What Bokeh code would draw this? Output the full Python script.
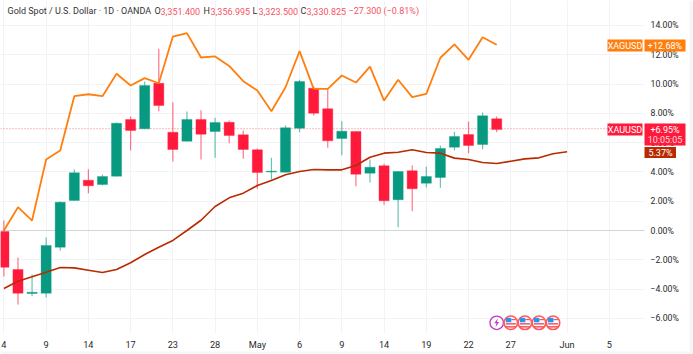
from bokeh.plotting import figure
from bokeh.models import Range1d, FixedTicker, Label, BoxAnnotation, ColumnDataSource
from bokeh.embed import file_html
from bokeh.resources import INLINE

# --- data (percent change) ---
opens = [-0.07,-2.66,-4.30,-4.28,-1.14,2.05,3.43,3.14,3.71,7.58,6.94,10.05,6.71,6.10,7.58,6.76,7.39,6.53,5.51,3.99,3.98,6.98,9.71,8.31,6.28,6.76,3.91,4.42,2.10,4.08,3.23,3.62,5.69,6.55,5.87,7.62]
closes = [-2.51,-4.28,-4.22,-1.02,1.93,3.94,3.05,3.69,7.32,6.83,9.90,8.53,5.53,7.58,6.57,7.37,6.48,5.53,3.96,4.05,7.01,10.17,8.01,6.12,6.78,3.84,4.32,2.03,4.03,2.85,3.69,5.60,6.42,5.80,7.83,6.89]
highs = [0.68,-1.84,-3.00,-0.48,1.98,4.16,4.18,3.82,7.37,7.78,10.17,12.40,8.76,8.12,8.21,7.69,7.51,6.83,5.60,4.96,7.17,10.29,9.85,9.67,7.46,6.76,4.85,4.55,4.03,4.44,4.35,5.80,6.74,7.44,8.05,7.78]
lows = [-3.14,-5.05,-4.48,-4.57,-1.37,2.05,2.55,3.07,3.69,5.46,6.93,8.14,4.71,6.08,4.85,4.96,5.96,4.89,2.85,3.46,3.96,6.71,7.85,5.65,5.14,3.02,3.28,1.75,0.23,1.32,2.94,2.91,5.46,5.28,5.55,6.71]
xagusd = [0,1.59,0.68,4.85,5.46,9.17,9.30,9.17,10.70,9.90,10.40,10.05,13.24,13.47,11.81,11.88,11.23,10.19,9.56,8.14,9.78,12.24,9.67,9.67,10.58,10.10,11.19,8.87,10.29,9.10,9.33,11.79,12.70,11.65,13.19,12.68]
ma = [-3.96,-3.46,-3.16,-2.85,-2.53,-2.55,-2.71,-2.87,-2.66,-2.20,-1.64,-1.14,-0.68,0,0.70,1.64,2.23,2.55,3.07,3.41,3.80,4.03,4.16,4.14,4.14,4.44,5.00,5.28,5.34,5.51,5.32,5.28,4.94,4.85,4.64,4.57,4.73,4.89,4.96,5.24,5.37]
x_ticks = [0,3,6,9,12,15,18,21,24,27,30,33,36,40,43]
x_labels = ["4","9","14","17","23","28","May","6","9","14","19","22","27","Jun","5"]
y_ticks = [-6,-4,-2,0,2,4,6,8,10,12,14]
y_labels = ["\u22126.00%","\u22124.00%","\u22122.00%","0.00%","2.00%","4.00%","6.00%","8.00%","10.00%","12.00%","14.00%"]
flag_idx = [36,37,38,39]
bolt_idx = [35]
event_level = -6.3
last_gold, last_silver, last_ma = 6.95, 12.68, 5.37

GREEN, RED, ORANGE, BROWN = "#089981", "#ff1a3c", "#ff7f0e", "#b82a00"
FONT = "Roboto"
W, H = 693, 354
FW, FH = 644, 333   # pixel edge of the plotting pane
X0, PXI = 3.4, 14.08
Y0, PYP = 230.0, 14.65
def ix(px): return (px - X0) / PXI
def iy(py): return (Y0 - py) / PYP

p = figure(width=W, height=H, output_backend="svg", toolbar_location=None,
           x_range=Range1d(ix(0), ix(W)), y_range=Range1d(iy(H), iy(0)),
           x_axis_location="below", y_axis_location="right",
           min_border=0, margin=0, background_fill_color="white", border_fill_color="white",
           styles={"position": "absolute", "left": "0px", "top": "0px"})
p.outline_line_color = None

for ax in (p.xaxis[0], p.yaxis[0]):
    ax.axis_line_color = None
    ax.major_tick_line_color = None
    ax.minor_tick_line_color = None
    ax.major_tick_out = 0
    ax.major_tick_in = 0
    ax.major_label_text_font = FONT
    ax.major_label_text_color = "#2a2a2a"
p.xaxis[0].major_label_text_font_size = "9.2px"
p.xaxis[0].ticker = FixedTicker(ticks=x_ticks)
p.xaxis[0].major_label_overrides = dict(zip(x_ticks, x_labels))
p.xaxis[0].major_label_standoff = 5
p.xaxis[0].fixed_location = iy(FH)
p.yaxis[0].major_label_text_font_size = "8.7px"
p.yaxis[0].ticker = FixedTicker(ticks=y_ticks)
p.yaxis[0].major_label_overrides = dict(zip(y_ticks, y_labels))
p.yaxis[0].major_label_standoff = 6
p.yaxis[0].fixed_location = ix(FW)
p.grid.grid_line_color = "#f3f3f5"
p.grid.grid_line_width = 1

# gutters that hide the grid outside the pane
p.quad(left=[ix(FW)], right=[ix(W)], top=[iy(0)], bottom=[iy(H)], fill_color="white", line_color=None)
p.quad(left=[ix(0)], right=[ix(W)], top=[iy(FH)], bottom=[iy(H)], fill_color="white", line_color=None)
p.quad(left=[ix(689)], right=[ix(W)], top=[iy(0)], bottom=[iy(H)], fill_color="#f6f6f6", line_color=None)
p.quad(left=[ix(0)], right=[ix(W)], top=[iy(351)], bottom=[iy(H)], fill_color="#f6f6f6", line_color=None)

p.segment(x0=[ix(0)], x1=[ix(FW)], y0=[0], y1=[0], line_color="#d4d4d6", line_width=1)

idx = list(range(len(opens)))
col = [GREEN if c >= o else RED for o, c in zip(opens, closes)]
src = ColumnDataSource(dict(x=idx, top=[max(o, c) for o, c in zip(opens, closes)],
                            bottom=[min(o, c) for o, c in zip(opens, closes)],
                            high=highs, low=lows, color=col))

# price line
p.segment(x0=[ix(0)], x1=[ix(607)], y0=[last_gold], y1=[last_gold],
          line_color="#f77c80", line_width=1, line_dash="1 2")

p.segment("x", "high", "x", "low", source=src, line_color="color", line_width=1.2, line_alpha=0.6)
p.vbar("x", 0.72, "top", "bottom", source=src, fill_color="color", line_color="color", line_alpha=0.35, line_width=1)

p.line(list(range(len(ma))), ma, line_color=BROWN, line_width=1.6)
p.line(idx, xagusd, line_color=ORANGE, line_width=1.8)

# event markers
PX = 1 / PXI
PY = 1 / PYP
p.scatter(bolt_idx, [event_level]*len(bolt_idx), marker="circle", size=13.5, fill_color="white",
          line_color="#c238c2", line_width=1.3)
bolt_x = [[b + d*PX for d in (1.2, -2.4, -0.2, -1.2, 2.4, 0.2)] for b in bolt_idx]
bolt_y = [[event_level + d*PY for d in (4.5, -0.5, -0.5, -4.5, 0.8, 0.8)] for b in bolt_idx]
p.patches(bolt_x, bolt_y, fill_color="#c238c2", line_color=None)

p.scatter(flag_idx, [event_level]*4, marker="circle", size=13.5, fill_color="white",
          line_color="#ff5a5f", line_width=1.6)
fl = [f - 5*PX for f in flag_idx]
fr = [f + 5*PX for f in flag_idx]
fm = [f + 0.5*PX for f in flag_idx]
lv = [event_level]*4
p.quad(left=fl, right=fm, top=[v + 5*PY for v in lv], bottom=[v + 0.5*PY for v in lv], fill_color="#2196f3", line_color=None)
p.quad(left=fl, right=fr, top=[v - 0.3*PY for v in lv], bottom=[v - 1.8*PY for v in lv], fill_color="#f4515a", line_color=None)
p.quad(left=fl, right=fr, top=[v - 3.3*PY for v in lv], bottom=[v - 4.8*PY for v in lv], fill_color="#f4515a", line_color=None)
p.quad(left=fm, right=fr, top=[v + 3.8*PY for v in lv], bottom=[v + 2.6*PY for v in lv], fill_color="#f4515a", line_color=None)

def scr(y):
    return H - y

def text(x, y, s, color, size="9px", align="left"):
    p.add_layout(Label(x=x, y=scr(y), x_units="screen", y_units="screen", text=s, text_color=color,
                       text_font=FONT, text_font_size=size, text_align=align, text_baseline="middle"))

def tag(x0, x1, y0, y1, color):
    p.add_layout(BoxAnnotation(left=x0, right=x1, top=scr(y0), bottom=scr(y1), left_units="screen", right_units="screen",
                               top_units="screen", bottom_units="screen", fill_color=color, fill_alpha=1,
                               line_color=None, level="annotation"))

DARK = "#333333"
VAL = "#f7525f"
text(7, 10.5, "Gold Spot / U.S. Dollar \u00b7 1D \u00b7 OANDA", DARK)
for x, s, c in [(154, "O", DARK), (160, "3,351.400", VAL), (203, "H", DARK), (210, "3,356.995", VAL),
                (252, "L", DARK), (258, "3,323.500", VAL), (300, "C", DARK), (306, "3,330.825", VAL),
                (348, "\u221227.300 (\u22120.81%)", VAL)]:
    text(x, 10.5, s, c)

tag(607, 642, 39, 51, ORANGE)
tag(644, 685, 39, 51, ORANGE)
tag(607, 642, 123, 135, RED)
tag(644, 685, 123, 145, RED)
tag(644, 675.5, 146.5, 157.5, BROWN)
text(624.5, 45, "XAGUSD", "white", "9px", "center")
text(664.5, 45, "+12.68%", "white", "9px", "center")
text(624.5, 129, "XAUUSD", "white", "9px", "center")
text(664.5, 129, "+6.95%", "white", "9px", "center")
text(664.5, 139, "10:05:05", "#ffd5da", "9px", "center")
text(660, 152, "5.37%", "white", "9px", "center")

open("out.html", "w").write(file_html(p, INLINE))
